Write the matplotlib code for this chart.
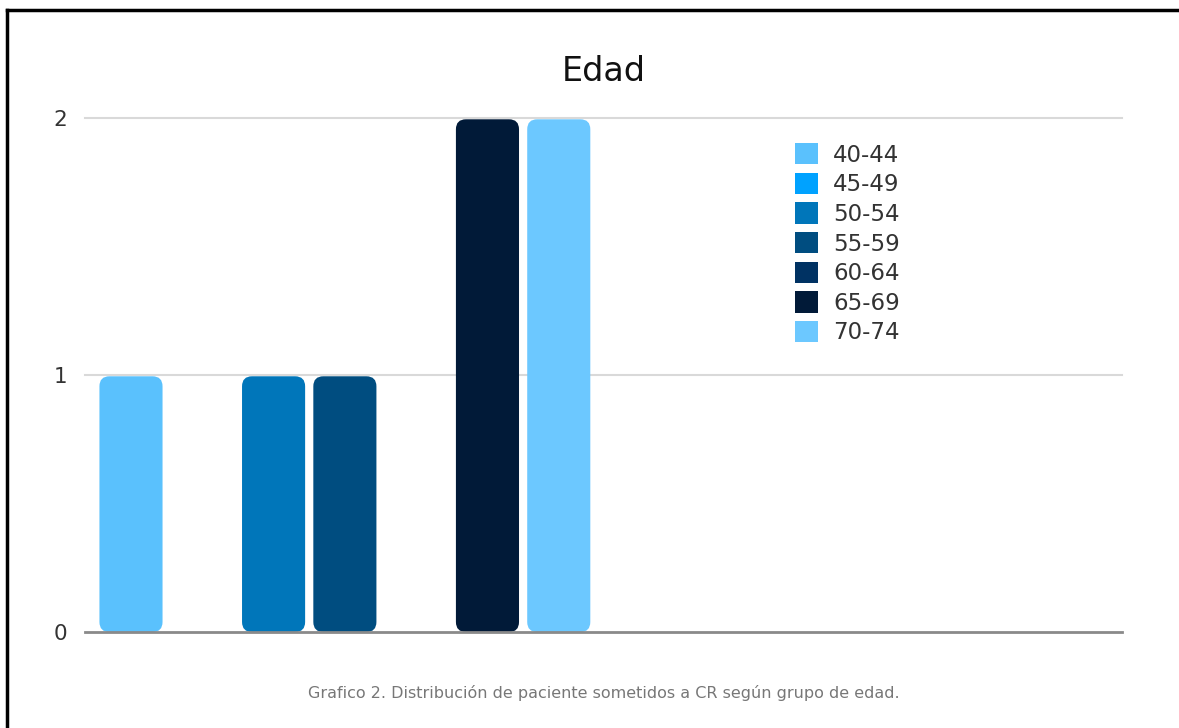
import matplotlib.pyplot as plt
from matplotlib.patches import FancyBboxPatch, Patch
from matplotlib.lines import Line2D

plt.rcParams['font.family'] = ['DejaVu Sans']

# datos
grupos = ['40-44', '45-49', '50-54', '55-59', '60-64', '65-69', '70-74']
pacientes = [1, 0, 1, 1, 0, 2, 2]
colores = ['#5AC1FD', '#00A2FF', '#0076BA', '#004D80', '#003263', '#011A38', '#6CC8FF']
yticks = [0, 1, 2]

fig = plt.figure(figsize=(11.79, 7.28), dpi=100)
ax = fig.add_axes([85/1179, 1-632/728, (1122-85)/1179, (632-118)/728])

pos = list(range(len(grupos)))
barras = ax.bar(pos, pacientes, width=0.885, color=colores, visible=False)

ax.set_xlim(-0.645, 13.9)
ax.set_ylim(0, 2)

# barras con esquinas redondeadas
px_x = 14.545 / 1037
px_y = 2 / 514
for b, c, v in zip(barras, colores, pacientes):
    if v <= 0:
        continue
    p = FancyBboxPatch((b.get_x(), b.get_y()), b.get_width(), b.get_height() - 0.005,
                       boxstyle='round,pad=0,rounding_size=%f' % (10 * px_x),
                       mutation_aspect=px_y / px_x, facecolor=c, edgecolor='none', zorder=2)
    ax.add_patch(p)

for s in ax.spines.values():
    s.set_visible(False)
for t in yticks[1:]:
    ax.axhline(t, color='#D9D9D9', lw=1.5, zorder=1, clip_on=False)
ax.axhline(0, color='#8A8A8A', lw=2, zorder=3, clip_on=False)

ax.set_xticks([])
ax.set_yticks(yticks)
ax.tick_params(axis='y', length=0, pad=13, labelsize=15.5, labelcolor='#333333')

ax.set_title('Edad', fontsize=24, pad=26.5, color='#111111')

handles = [Patch(facecolor=c, edgecolor='none') for c in colores]
ax.legend(handles, grupos, loc='upper left', bbox_to_anchor=(0.685, 0.951), frameon=False,
          fontsize=16.5, handlelength=1.0, handleheight=1.05, labelspacing=0.27,
          handletextpad=0.65, borderaxespad=0, borderpad=0, labelcolor='#333333')

fig.text(604/1179, 1-693/728, 'Grafico 2. Distribución de paciente sometidos a CR según grupo de edad.',
         ha='center', va='center', fontsize=11.5, color='#777777')

# marco
fig.add_artist(Line2D([6.5/1179, 1], [1-9.5/728, 1-9.5/728], transform=fig.transFigure, color='black', lw=2.5))
fig.add_artist(Line2D([7.5/1179, 7.5/1179], [0, 1-9.5/728], transform=fig.transFigure, color='black', lw=2.5))

fig.savefig('out.png', dpi=100)
